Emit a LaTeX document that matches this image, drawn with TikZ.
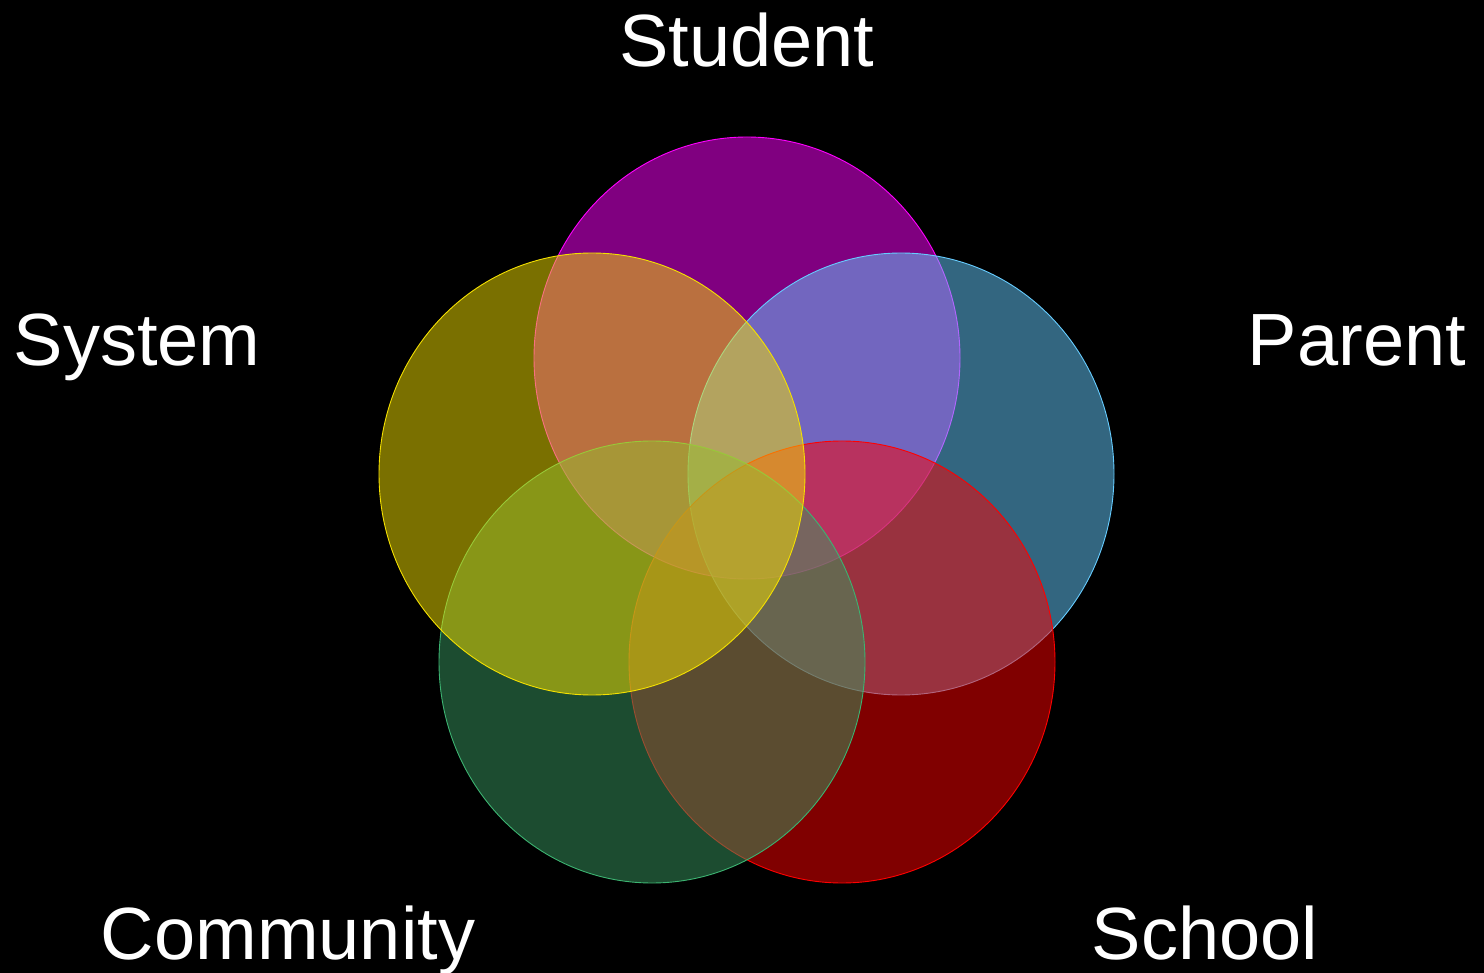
\documentclass[tikz,border=0pt]{standalone}
\usepackage{fontspec}
\setmainfont{Liberation Sans}
\usetikzlibrary{shapes.geometric}
\definecolor{cStudent}{RGB}{255,0,255}
\definecolor{cParent}{RGB}{102,204,255}
\definecolor{cSchool}{RGB}{255,0,0}
\definecolor{cCommunity}{RGB}{56,152,96}
\definecolor{cSystem}{RGB}{244,224,0}
\definecolor{cCommLine}{RGB}{60,179,113}
\tikzset{
  venn/.style={ellipse, minimum width=426pt, minimum height=442pt, inner sep=0pt,
    fill opacity=0.5, line width=0.9pt},
  lbl/.style={text=white, font=\fontsize{74}{88}\selectfont, anchor=base, inner sep=0pt}
}
\begin{document}
\begin{tikzpicture}[x=1pt,y=-1pt]
\fill[black] (0,0) rectangle (1484,973);
\useasboundingbox (0,0) rectangle (1484,973);
\node[venn, fill=cStudent, draw=cStudent] (student) at (747,358) {};
\node[venn, fill=cParent, draw=cParent] (parent) at (901,474) {};
\node[venn, fill=cSchool, draw=cSchool] (school) at (842,662) {};
\node[venn, fill=cCommunity, draw=cCommLine] (community) at (652,662) {};
\node[venn, fill=cSystem, draw=cSystem] (system) at (592,474) {};
\node[lbl] (tStudent) at (747,67) {Student};
\node[lbl] (tSystem) at (137,366) {System};
\node[lbl] (tParent) at (1357,366) {Parent};
\node[lbl] (tCommunity) at (288,959) {Community};
\node[lbl] (tSchool) at (1205,959) {School};
\end{tikzpicture}
\end{document}
